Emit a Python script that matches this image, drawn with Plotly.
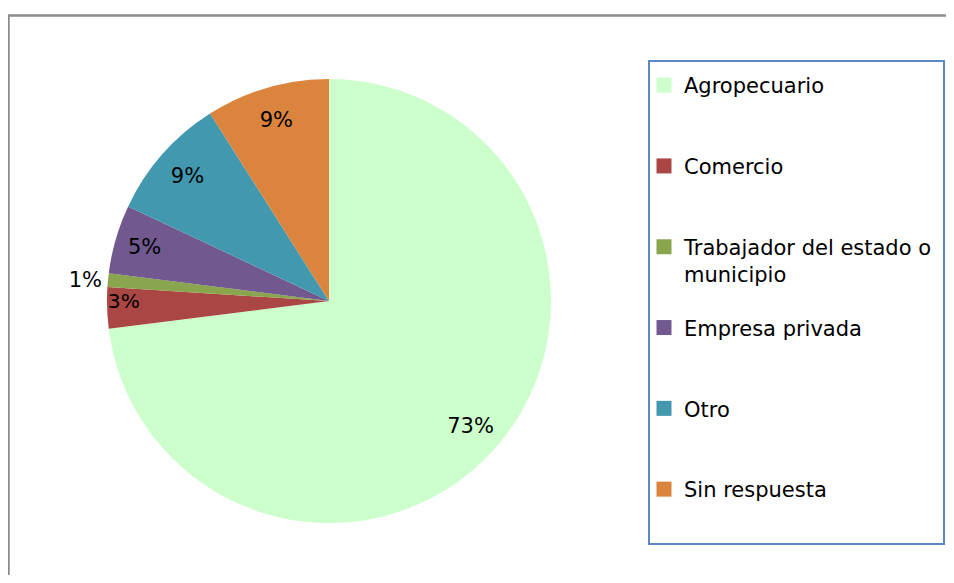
import plotly.graph_objects as go

categories = ["Agropecuario", "Comercio", "Trabajador del estado o municipio",
              "Empresa privada", "Otro", "Sin respuesta"]
legend_labels = ["Agropecuario", "Comercio", "Trabajador del estado o<br>municipio",
                 "Empresa privada", "Otro", "Sin respuesta"]
percentages = [73, 3, 1, 5, 9, 9]
colors = ["#CCFFCC", "#AA4643", "#89A54E", "#71588F", "#4198AF", "#DB843D"]
# which labels sit near the rim (outer ring) vs. inside the wedge / outside
label_mode = ["ring", "inside", "outside", "inside", "ring", "ring"]

# the page body adds an 8px offset; work in reference-pixel coordinates
OFF = 8
W, H = 954 - OFF, 583 - 2 * OFF
FONT = "DejaVu Sans"
FS = 21


def px(x):
    return (x - OFF) / W


def py(y):
    return 1 - (y - OFF) / H


dom = dict(x=[px(107), px(551)], y=[py(523), py(79)])

fig = go.Figure()
# main pie: wedges + the small-slice labels
fig.add_trace(go.Pie(
    labels=categories,
    values=percentages,
    sort=False,
    direction="clockwise",
    rotation=0,
    marker=dict(colors=colors, line=dict(width=0)),
    texttemplate=["" if m == "ring" else "%{value}%" for m in label_mode],
    textposition=["outside" if m == "outside" else "inside" for m in label_mode],
    insidetextorientation="horizontal",
    textfont=dict(family=FONT, size=FS, color="black"),
    showlegend=False,
    domain=dom,
    hoverinfo="label+percent",
))
# transparent ring overlay placing the larger-slice labels near the rim
fig.add_trace(go.Pie(
    labels=categories,
    values=percentages,
    sort=False,
    direction="clockwise",
    rotation=0,
    hole=0.7,
    marker=dict(colors=["rgba(0,0,0,0)"] * len(categories), line=dict(width=0)),
    texttemplate=["%{value}%" if m == "ring" else "" for m in label_mode],
    textposition="inside",
    insidetextorientation="horizontal",
    textfont=dict(family=FONT, size=FS, color="black"),
    showlegend=False,
    domain=dom,
    hoverinfo="skip",
))

# legend entries built from the same category / colour arrays
for i, (lab, col) in enumerate(zip(legend_labels, colors)):
    name = lab if "<br>" in lab else lab + "<br> "
    fig.add_trace(go.Scatter(
        x=[None], y=[None], mode="markers", name=name,
        marker=dict(symbol="square", size=15, color=col),
        legendgroup=f"g{i}", showlegend=True, hoverinfo="skip",
    ))

fig.update_layout(
    width=W, height=H,
    margin=dict(l=0, r=0, t=0, b=0),
    paper_bgcolor="white", plot_bgcolor="white",
    xaxis=dict(visible=False), yaxis=dict(visible=False),
    showlegend=True,
    legend=dict(
        x=px(644), xanchor="left", y=py(65), yanchor="top",
        font=dict(family=FONT, size=FS, color="black"),
        traceorder="grouped", tracegroupgap=23.2, valign="top",
        bgcolor="rgba(0,0,0,0)", borderwidth=0,
        itemclick=False, itemdoubleclick=False,
    ),
    shapes=[
        dict(type="rect", xref="paper", yref="paper",
             x0=px(8.5), x1=1.05, y0=-0.05, y1=py(15.5),
             line=dict(color="#8C8C8C", width=2.5), fillcolor="rgba(0,0,0,0)", layer="below"),
        dict(type="rect", xref="paper", yref="paper",
             x0=px(649), x1=px(944), y0=py(544), y1=py(61),
             line=dict(color="#5B88C6", width=2), fillcolor="rgba(0,0,0,0)", layer="below"),
    ],
)

fig.write_html("out.html")
